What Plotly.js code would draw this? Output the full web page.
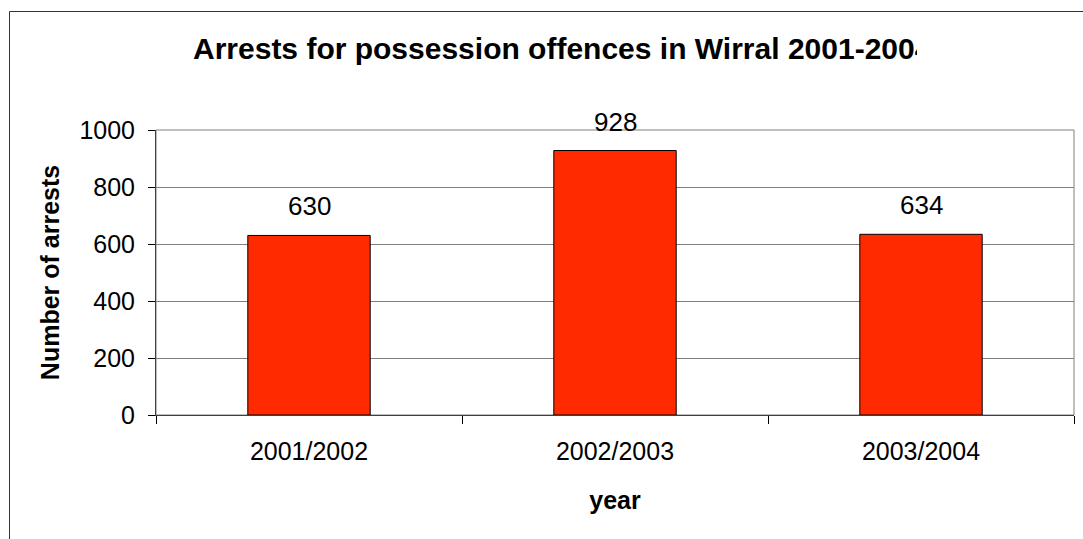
<!DOCTYPE html>
<html>
<head>
<meta charset="utf-8">
<script src="https://cdn.plot.ly/plotly-3.0.1.min.js"></script>
<style>
  html, body { margin: 0; padding: 0; background: #fff; }
  #chart { width: 1083px; height: 539px; }
</style>
</head>
<body>
<div id="chart"></div>
<script>
const categories = ["2001/2002", "2002/2003", "2003/2004"];
const arrests = [630, 928, 634];
const yTickValues = [0, 200, 400, 600, 800, 1000];
const chartTitle = "Arrests for possession offences in Wirral 2001-2004";
const xTitle = "year";
const yTitle = "Number of arrests";

const W = 1083, H = 539;
const M = { l: 156, r: 9, t: 130, b: 124 };
const PW = W - M.l - M.r, PH = H - M.t - M.b;
const px = v => (v - M.l) / PW;          // pixel x -> paper x
const py = v => (H - M.b - v) / PH;      // pixel y -> paper y

const FONT = "Liberation Sans, Arial, sans-serif";

const trace = {
  type: "bar",
  x: categories,
  y: arrests,
  marker: { color: "#FF2A00", line: { color: "#000000", width: 1 } },
  hoverinfo: "x+y"
};

const annotations = categories.map((c, i) => ({
  x: c, y: arrests[i], xref: "x", yref: "y",
  text: String(arrests[i]), showarrow: false,
  yanchor: "bottom", yshift: 12,
  font: { family: FONT, size: 26, color: "#000" }
}));

annotations.push({
  xref: "paper", yref: "paper",
  x: px(191), y: py(48), xanchor: "left", yanchor: "middle",
  width: 724, align: "left",
  text: "<b>" + chartTitle + "</b>", showarrow: false,
  font: { family: FONT, size: 30, color: "#000" }
});

const layout = {
  width: W, height: H,
  margin: M,
  paper_bgcolor: "#fff", plot_bgcolor: "#fff",
  showlegend: false,
  bargap: 0.6,
  font: { family: FONT, size: 25, color: "#000" },
  xaxis: {
    type: "category",
    tickson: "boundaries",
    ticks: "outside", ticklen: 8, tickcolor: "#000", tickwidth: 1,
    ticklabelstandoff: 14,
    showline: true, linecolor: "#404040", linewidth: 1,
    showgrid: false, zeroline: false,
    tickfont: { family: FONT, size: 25, color: "#000" },
    title: { text: "<b>" + xTitle + "</b>", font: { family: FONT, size: 25, color: "#000" }, standoff: 27 }
  },
  yaxis: {
    range: [0, 1000],
    tickvals: yTickValues,
    ticks: "outside", ticklen: 7, tickcolor: "#000", tickwidth: 1,
    ticklabelstandoff: 8,
    showline: true, linecolor: "#404040", linewidth: 1,
    showgrid: true, gridcolor: "#808080", gridwidth: 1,
    zeroline: false,
    tickfont: { family: FONT, size: 25, color: "#000" },
    title: { text: "<b>" + yTitle + "</b>", font: { family: FONT, size: 25, color: "#000" }, standoff: 12 }
  },
  shapes: [
    { type: "rect", xref: "paper", yref: "paper", x0: 0, x1: 1, y0: 0, y1: 1,
      line: { color: "#808080", width: 1 }, layer: "below" },
    { type: "rect", xref: "paper", yref: "paper",
      x0: px(9.5), x1: px(W + 20), y0: py(H + 20), y1: py(11.5),
      line: { color: "#333333", width: 1 }, layer: "below" }
  ],
  annotations: annotations
};

Plotly.newPlot("chart", [trace], layout, { displayModeBar: false, staticPlot: true });
</script>
</body>
</html>
